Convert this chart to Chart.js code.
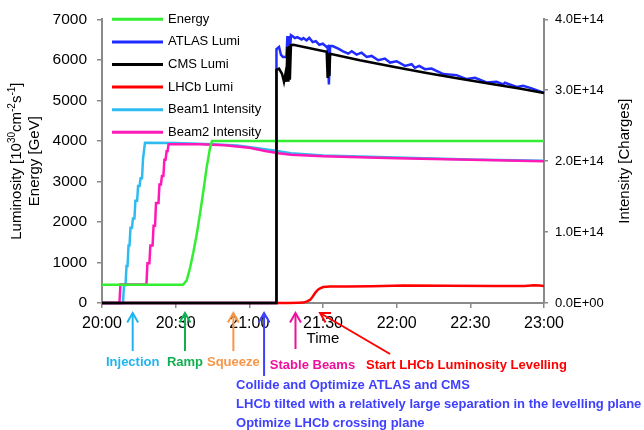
<!DOCTYPE html>
<html>
<head>
<meta charset="utf-8">
<script src="https://cdn.jsdelivr.net/npm/chart.js@4.4.1/dist/chart.umd.min.js"></script>
<style>
  html, body { margin: 0; padding: 0; background: #fff; }
</style>
</head>
<body>
<canvas id="fillChart" width="644" height="430"></canvas>
<script>
// time is minutes after 20:00
const xTickLabels = ['20:00', '20:30', '21:00', '21:30', '22:00', '22:30', '23:00'];
const y2TickLabels = ['0.0E+00', '1.0E+14', '2.0E+14', '3.0E+14', '4.0E+14'];

const seriesNames = ['Energy', 'ATLAS Lumi', 'CMS Lumi', 'LHCb Lumi', 'Beam1 Intensity', 'Beam2 Intensity'];

// [minute, GeV]
const energy = [[0, 450], [33, 450], [34.5, 560], [35.8, 850], [37.2, 1250], [38.6, 1700], [39.9, 2200],
  [41.3, 2770], [42.6, 3340], [44, 3830], [44.8, 4000], [180, 4000]];

// [minute, 1e30 cm-2 s-1]
const atlasLumi = [[0, 0], [70.9, 0], [71.05, 6267], [72.1, 6316], [72.9, 6120], [73.7, 6071], [75.1, 6071],
  [75.5, 6585], [75.9, 6000], [76.2, 6585], [76.5, 6193], [76.95, 6610], [77.2, 6602], [78.6, 6536],
  [79.5, 6561], [81.3, 6504], [82, 6536], [83.3, 6480], [84.4, 6545], [85.8, 6438], [87.1, 6463],
  [88.5, 6372], [89.9, 6397], [91.5, 6316], [91.9, 6330], [92.4, 5393], [92.9, 6340], [93.9, 6340],
  [96.2, 6274], [98.2, 6210], [100.3, 6152], [101.7, 6210], [103.7, 6128], [105.7, 6176], [107.8, 6071],
  [109.8, 6096], [112.5, 5990], [115.2, 6030], [117.3, 5932], [120, 5966], [123.4, 5851], [126.1, 5892],
  [127.4, 5802], [129.2, 5851], [131.5, 5770], [134.2, 5785], [139, 5648], [144.4, 5623], [148.5, 5525],
  [151.9, 5557], [156.6, 5442], [160.7, 5459], [163.4, 5393], [164.1, 5435], [168.9, 5329], [171.5, 5361],
  [175, 5295], [179.7, 5190], [180, 5180]];

const cmsLumi = [[0, 0], [70.9, 0], [71.05, 5753], [72.1, 5785], [73.3, 5655], [74.1, 5459], [74.7, 5655],
  [75.1, 5459], [75.5, 6316], [75.9, 5459], [76.2, 6340], [76.5, 5508], [76.95, 6365], [77.9, 6372],
  [91.5, 6200], [91.9, 5550], [92.2, 6160], [92.6, 5600], [92.9, 6150], [105, 5990], [118.6, 5830],
  [132.2, 5675], [145.8, 5535], [159.3, 5400], [170, 5290], [180, 5180]];

const lhcbLumi = [[0, 0], [76, 0], [80, 5], [82, 10], [83.5, 40], [84.7, 75], [85.7, 150], [86.7, 240],
  [87.5, 300], [88.1, 335], [88.8, 360], [90.1, 395], [92.8, 405], [100, 410], [110, 415], [122.7, 430],
  [140, 425], [160, 420], [172, 420], [176, 440], [178, 430], [180, 420]];

// [minute, charges]
const beam1 = [[0, 0], [8.55, 0], [8.96, 0.25e14], [9.57, 0.25e14], [9.98, 0.52e14], [10.4, 0.52e14],
  [10.8, 0.81e14], [11.2, 0.81e14], [11.6, 1.06e14], [12.2, 1.06e14], [12.6, 1.19e14], [13.2, 1.19e14],
  [13.6, 1.44e14], [14.3, 1.44e14], [14.7, 1.65e14], [15.3, 1.65e14], [15.7, 1.76e14], [16.3, 1.76e14],
  [16.7, 2.03e14], [17.1, 2.03e14], [17.5, 2.26e14], [30, 2.255e14], [45, 2.24e14], [55, 2.22e14],
  [62, 2.19e14], [70, 2.15e14], [77, 2.11e14], [90, 2.08e14], [120, 2.05e14], [150, 2.025e14], [180, 2.005e14]];

const beam2 = [[0, 0], [7.1, 0], [7.5, 0.26e14], [18.1, 0.26e14], [18.5, 0.56e14], [19.3, 0.56e14],
  [19.7, 0.81e14], [20.6, 0.81e14], [21, 1.09e14], [21.6, 1.09e14], [22, 1.41e14], [23, 1.41e14],
  [23.4, 1.67e14], [24, 1.67e14], [24.4, 1.79e14], [25, 1.79e14], [25.4, 2.02e14], [25.9, 2.02e14],
  [26.3, 2.14e14], [26.7, 2.14e14], [27.1, 2.24e14], [40, 2.24e14], [50, 2.225e14], [60, 2.19e14],
  [67, 2.14e14], [72, 2.11e14], [77, 2.09e14], [90, 2.07e14], [120, 2.04e14], [150, 2.02e14], [180, 2.0e14]];

// events marked under the time axis
const eventNames = ['Injection', 'Ramp', 'Squeeze',
  'Collide and Optimize ATLAS and CMS\nLHCb tilted with a relatively large separation in the levelling plane\nOptimize LHCb crossing plane',
  'Stable Beams', 'Start LHCb Luminosity Levelling'];
const eventTimes = [12.5, 33.8, 53.5, 66, 78.8, 88.8];

const seriesColors = ['#33ee33', '#1f2bff', '#000000', '#ff0000', '#2ebcf0', '#ff1ab8'];
const eventColors = ['#1fb4ef', '#10b050', '#f79646', '#4040ff', '#ee109c', '#ff0000'];

const FONT = '"Liberation Sans", Arial, sans-serif';
const AXIS_GREY = '#8a8a8a';

function toPoints(pairs) {
    return pairs.map(p => ({ x: p[0], y: p[1] }));
}

function makeSet(i, pairs, axis, order) {
    return {
        label: seriesNames[i],
        data: toPoints(pairs),
        yAxisID: axis,
        borderColor: seriesColors[i],
        backgroundColor: seriesColors[i],
        borderWidth: 2.5,
        pointRadius: 0,
        tension: 0,
        clip: false,
        order: order
    };
}

function drawArrowHead(ctx, tipX, tipY, fromX, fromY) {
    const ang = Math.atan2(fromY - tipY, fromX - tipX);
    const len = 11, spread = 0.52;
    ctx.beginPath();
    ctx.moveTo(tipX + len * Math.cos(ang - spread), tipY + len * Math.sin(ang - spread));
    ctx.lineTo(tipX, tipY);
    ctx.lineTo(tipX + len * Math.cos(ang + spread), tipY + len * Math.sin(ang + spread));
    ctx.stroke();
}

// rotated text made of pieces, some raised as superscripts
function drawRotated(ctx, parts, cx, cy) {
    ctx.save();
    ctx.translate(cx, cy);
    ctx.rotate(-Math.PI / 2);
    ctx.textBaseline = 'middle';
    ctx.textAlign = 'left';
    let total = 0;
    parts.forEach(p => {
        ctx.font = (p.sup ? '10px ' : '15px ') + FONT;
        p.w = ctx.measureText(p.t).width;
        total += p.w;
    });
    let x = -total / 2;
    parts.forEach(p => {
        ctx.font = (p.sup ? '10px ' : '15px ') + FONT;
        ctx.fillText(p.t, x, p.sup ? -5 : 0);
        x += p.w;
    });
    ctx.restore();
}

const overlayPlugin = {
    id: 'overlay',
    afterDraw(chart) {
        const ctx = chart.ctx;
        const area = chart.chartArea;
        const xs = chart.scales.x;

        // legend inside the plot
        ctx.save();
        ctx.font = '13px ' + FONT;
        ctx.textBaseline = 'middle';
        ctx.textAlign = 'left';
        seriesNames.forEach((name, i) => {
            const y = area.top + i * 22.6;
            ctx.strokeStyle = seriesColors[i];
            ctx.lineWidth = 3;
            ctx.beginPath();
            ctx.moveTo(area.left + 10, y);
            ctx.lineTo(area.left + 61, y);
            ctx.stroke();
            ctx.fillStyle = '#000';
            ctx.fillText(name, area.left + 66, y);
        });
        ctx.restore();

        // axis titles
        ctx.save();
        ctx.fillStyle = '#000';
        drawRotated(ctx, [{ t: 'Luminosity [10' }, { t: '30', sup: true }, { t: 'cm' }, { t: '-2', sup: true },
            { t: 's' }, { t: '-1', sup: true }, { t: ']' }], 17, (area.top + area.bottom) / 2);
        drawRotated(ctx, [{ t: 'Energy [GeV]' }], 35, (area.top + area.bottom) / 2);
        drawRotated(ctx, [{ t: 'Intensity [Charges]' }], 625, (area.top + area.bottom) / 2);
        ctx.font = '15px ' + FONT;
        ctx.textAlign = 'center';
        ctx.textBaseline = 'middle';
        ctx.fillText('Time', (area.left + area.right) / 2, area.bottom + 36);
        ctx.restore();

        // event arrows and captions
        const tipY = area.bottom + 10;
        ctx.save();
        ctx.lineWidth = 2;
        ctx.font = 'bold 13px ' + FONT;
        ctx.textBaseline = 'middle';
        eventNames.forEach((name, i) => {
            const x = xs.getPixelForValue(eventTimes[i]);
            ctx.strokeStyle = eventColors[i];
            ctx.fillStyle = eventColors[i];
            const lines = name.split('\n');
            if (i < 3) {
                ctx.beginPath(); ctx.moveTo(x, tipY); ctx.lineTo(x, area.bottom + 48); ctx.stroke();
                drawArrowHead(ctx, x, tipY, x, tipY + 20);
                ctx.textAlign = 'center';
                ctx.fillText(lines[0], x, area.bottom + 59);
            } else if (i === 3) {
                ctx.beginPath(); ctx.moveTo(x, tipY); ctx.lineTo(x, area.bottom + 73); ctx.stroke();
                drawArrowHead(ctx, x, tipY, x, tipY + 20);
                ctx.textAlign = 'left';
                lines.forEach((ln, k) => ctx.fillText(ln, x - 28, area.bottom + 82 + k * 19));
            } else if (i === 4) {
                ctx.beginPath(); ctx.moveTo(x, tipY); ctx.lineTo(x, area.bottom + 46); ctx.stroke();
                drawArrowHead(ctx, x, tipY, x, tipY + 20);
                ctx.textAlign = 'center';
                ctx.fillText(lines[0], x + 17, area.bottom + 62);
            } else {
                const tx = x + 70, ty = area.bottom + 51;
                ctx.beginPath(); ctx.moveTo(x, tipY); ctx.lineTo(tx, ty); ctx.stroke();
                drawArrowHead(ctx, x, tipY, tx, ty);
                ctx.textAlign = 'left';
                ctx.fillText(lines[0], x + 46, area.bottom + 62);
            }
        });
        ctx.restore();
    }
};

const ctx = document.getElementById('fillChart').getContext('2d');
const myChart = new Chart(ctx, {
    type: 'line',
    data: {
        datasets: [
            makeSet(0, energy, 'y', 4),
            makeSet(1, atlasLumi, 'y', 3),
            makeSet(2, cmsLumi, 'y', 1),
            makeSet(3, lhcbLumi, 'y', 2),
            makeSet(4, beam1, 'y2', 6),
            makeSet(5, beam2, 'y2', 5)
        ]
    },
    options: {
        responsive: false,
        animation: false,
        layout: { padding: { top: 17, left: 0, right: 0, bottom: 0 } },
        plugins: {
            legend: { display: false },
            tooltip: { enabled: false }
        },
        scales: {
            x: {
                type: 'linear',
                min: 0,
                max: 180,
                afterFit: s => { s.height = 127; },
                border: { color: AXIS_GREY, width: 2 },
                grid: { drawOnChartArea: false, tickLength: 5, color: AXIS_GREY, lineWidth: 1.5 },
                ticks: {
                    stepSize: 30,
                    padding: 6,
                    maxRotation: 0,
                    color: '#000',
                    font: { family: FONT, size: 16 },
                    callback: (v, idx) => xTickLabels[idx]
                }
            },
            y: {
                position: 'left',
                min: 0,
                max: 7000,
                afterFit: s => { s.width = 102; },
                border: { color: AXIS_GREY, width: 2 },
                grid: { drawOnChartArea: false, tickLength: 5, color: AXIS_GREY, lineWidth: 1.5 },
                ticks: {
                    stepSize: 1000,
                    padding: 10,
                    color: '#000',
                    font: { family: FONT, size: 15.5 },
                    callback: v => String(v)
                }
            },
            y2: {
                position: 'right',
                min: 0,
                max: 4e14,
                afterFit: s => { s.width = 100; },
                border: { color: AXIS_GREY, width: 2 },
                grid: { drawOnChartArea: false, tickLength: 4, color: AXIS_GREY, lineWidth: 1.5 },
                ticks: {
                    stepSize: 1e14,
                    padding: 7,
                    color: '#000',
                    font: { family: FONT, size: 13 },
                    callback: (v, idx) => y2TickLabels[idx]
                }
            }
        }
    },
    plugins: [overlayPlugin]
});
</script>
</body>
</html>
